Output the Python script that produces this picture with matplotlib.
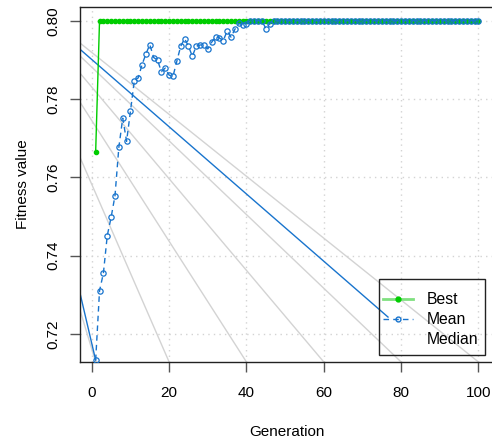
import matplotlib
matplotlib.use("Agg")
import matplotlib.pyplot as plt
from matplotlib.lines import Line2D
from matplotlib.patches import Rectangle

plt.rcParams["font.family"] = ["Liberation Sans", "DejaVu Sans"]
plt.rcParams["font.size"] = 11

# data
generations = list(range(1, 101))
best = [0.7665] + [0.80] * 99
mean_first = [0.7133, 0.7310, 0.7355, 0.7451, 0.7498, 0.7553, 0.7677, 0.7751, 0.7692, 0.7769,
              0.7847, 0.7854, 0.7888, 0.7915, 0.7939, 0.7906, 0.7899, 0.7870, 0.7879, 0.7861,
              0.7858, 0.7897, 0.7935, 0.7954, 0.7935, 0.7909, 0.7935, 0.7938, 0.7938, 0.7928,
              0.7945, 0.7959, 0.7956, 0.7949, 0.7974, 0.7958, 0.7978, 0.7993, 0.7990, 0.7991,
              0.80, 0.80, 0.80, 0.80, 0.7980, 0.7992]
mean = mean_first + [0.80] * (100 - len(mean_first))

# stray shading strokes: start height at left edge, end generation at bottom
shade_start_y = [0.7943, 0.7910, 0.7866, 0.7792, 0.7651, 0.7261]
shade_end_x = [100, 80, 60, 40, 20, 1]
# stray solid blue strokes
blue_x = [[-3.05, 76.6], [-3.05, 1]]
blue_y = [[0.7927, 0.7243], [0.7304, 0.7133]]

xlim = (-3.05, 103.96)
ylim = (0.71282, 0.8035)
green = "#00CD00"
blue = "#1874CD"

fig = plt.figure(figsize=(4.92, 4.38), dpi=100)
ax = fig.add_axes([80 / 492, 1 - 362 / 438, 413.8 / 492, 355 / 438])
ax.set_xlim(*xlim)
ax.set_ylim(*ylim)

xt = [0, 20, 40, 60, 80, 100]
yt = [0.72, 0.74, 0.76, 0.78, 0.80]
for v in xt:
    ax.axvline(v, color="#d3d3d3", lw=1, ls=(0, (1, 3)), zorder=0)
for v in yt:
    ax.axhline(v, color="#d3d3d3", lw=1, ls=(0, (1, 3)), zorder=0)

for y0, x1 in zip(shade_start_y, shade_end_x):
    ax.plot([xlim[0], x1], [y0, ylim[0]], color="#d3d3d3", lw=1, zorder=1)
for bx, by in zip(blue_x, blue_y):
    ax.plot(bx, by, color=blue, lw=1, zorder=2)

ax.plot(generations, best, color=green, lw=1, marker="o", ms=3, mfc=green, mec=green, zorder=3)
ax.plot(generations, mean, color=blue, lw=1, ls=(0, (4, 3)), marker="o", ms=3.8,
        mfc="none", mec=blue, mew=0.9, zorder=4)

ax.set_xticks(xt)
ax.set_yticks(yt)
ax.set_yticklabels(["0.72", "0.74", "0.76", "0.78", "0.80"], rotation=90, va="center")
ax.tick_params(axis="both", length=7, width=1, color="#555555", direction="out")
ax.tick_params(axis="x", pad=10)
ax.tick_params(axis="y", pad=7)
for s in ax.spines.values():
    s.set_linewidth(1)
    s.set_color("#222222")

ax.set_xlabel("Generation", labelpad=18)
ax.set_ylabel("Fitness value", labelpad=12)

# legend box drawn separately (R-style tight left padding)
fig.patches.append(Rectangle((379 / 492, 1 - 355 / 438), 106 / 492, 76 / 438,
                             transform=fig.transFigure, fill=False,
                             edgecolor="#222222", lw=1, zorder=5))
handles = [
    Line2D([], [], color="#80E080", lw=2, marker="o", ms=3.5, mfc=green, mec=green),
    Line2D([], [], color=blue, lw=1, ls=(0, (4, 3)), marker="o", ms=3.5, mfc="none", mec=blue),
    Line2D([], [], color="none"),
]
leg = ax.legend(handles, ["Best", "Mean", "Median"], loc="upper left",
                bbox_to_anchor=(383 / 492, 1 - 292 / 438), bbox_transform=fig.transFigure,
                frameon=False, handlelength=1.9, handletextpad=0.9, fontsize=11.3,
                labelspacing=0.32, borderpad=0, borderaxespad=0)

fig.savefig("out.png", dpi=100)
